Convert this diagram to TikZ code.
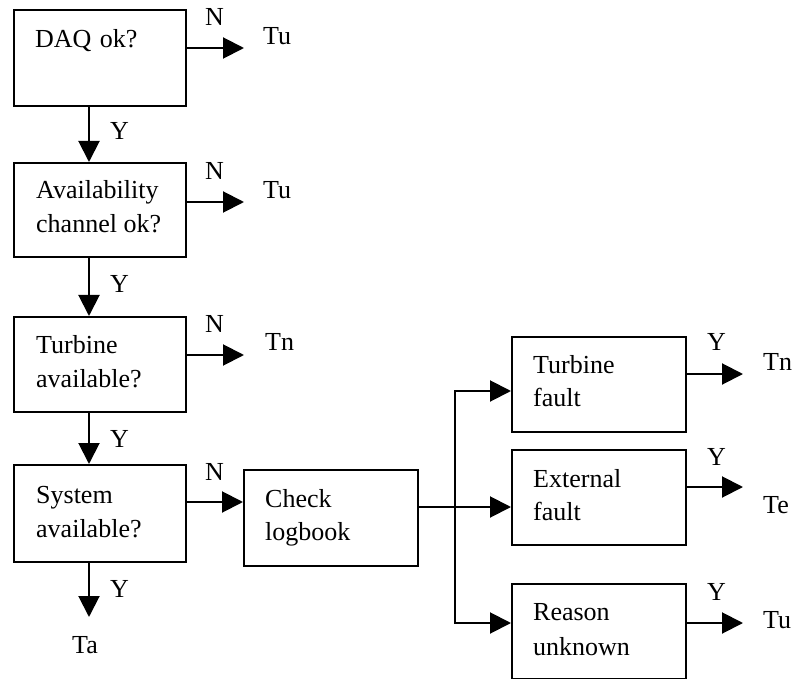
\documentclass[tikz,border=0pt]{standalone}
\usepackage{fontspec}
\setmainfont{Liberation Serif}
\usetikzlibrary{arrows.meta}
\begin{document}
\begin{tikzpicture}[x=1pt,y=-1pt,
  box/.style={draw, line width=2.4pt, rectangle, inner sep=0pt, anchor=north west, minimum width=172pt},
  txt/.style={inner sep=0pt, anchor=base west, font=\fontsize{26}{33}\selectfont},
  arr/.style={line width=2pt, -{Triangle[length=21pt,width=21pt]}},
  conn/.style={line width=2pt}]
\useasboundingbox (0,0) rectangle (793,679);
% left column boxes
\node[box, minimum height=96pt] (b1) at (13,9) {};
\node[box, minimum height=94pt] (b2) at (13,162) {};
\node[box, minimum height=95pt] (b3) at (13,316) {};
\node[box, minimum height=97pt] (b4) at (13,464) {};
\node[box, minimum width=174pt, minimum height=96pt] (chk) at (243,469) {};
\node[box, minimum width=174pt, minimum height=95pt] (tf) at (511,336) {};
\node[box, minimum width=174pt, minimum height=95pt] (ext) at (511,449) {};
\node[box, minimum width=174pt, minimum height=95pt] (ru) at (511,583) {};
% box texts
\node[txt] (t1) at (35,48) {DAQ\hspace{2pt} ok?};
\node[txt] (t2a) at (36,199) {Availability};
\node[txt] (t2b) at (36,233) {channel ok?};
\node[txt] (t3a) at (36,353) {Turbine};
\node[txt] (t3b) at (36,387) {available?};
\node[txt] (t4a) at (36,503) {System};
\node[txt] (t4b) at (36,537) {available?};
\node[txt] (tca) at (265,507) {Check};
\node[txt] (tcb) at (265,540) {logbook};
\node[txt] (tfa) at (533,373) {Turbine};
\node[txt] (tfb) at (533,406) {fault};
\node[txt] (tea) at (533,487) {External};
\node[txt] (teb) at (533,520) {fault};
\node[txt] (tra) at (533,620) {Reason};
\node[txt] (trb) at (533,655) {unknown};
% coordinates
\coordinate (colx) at (89,0);
\coordinate (o1) at (185,48);
\coordinate (o2) at (185,202);
\coordinate (o3) at (185,355);
\coordinate (o4) at (185,502);
\coordinate (e1) at (244,48);
\coordinate (e2) at (244,202);
\coordinate (e3) at (244,355);
\coordinate (ta tip) at (89,617);
\coordinate (jt) at (455,391);
\coordinate (jb) at (455,623);
\coordinate (r1) at (685,374);
\coordinate (r2) at (685,487);
\coordinate (r3) at (685,623);
\coordinate (re1) at (743,374);
\coordinate (re2) at (743,487);
\coordinate (re3) at (743,623);
% vertical arrows
\draw[arr] (b1.south -| colx) -- (b2.north -| colx);
\draw[arr] (b2.south -| colx) -- (b3.north -| colx);
\draw[arr] (b3.south -| colx) -- (b4.north -| colx);
\draw[arr] (b4.south -| colx) -- (ta tip);
% horizontal arrows from left boxes
\draw[arr] (o1) -- (e1);
\draw[arr] (o2) -- (e2);
\draw[arr] (o3) -- (e3);
\draw[arr] (o4) -- (chk.west |- o4);
% branches
\draw[arr] (chk.east |- 0,507) -- (ext.west |- 0,507);
\draw[conn, {Triangle[length=21pt,width=21pt]}-{Triangle[length=21pt,width=21pt]}] (tf.west |- jt) -- (jt) -- (jb) -- (ru.west |- jb);
% right outputs
\draw[arr] (r1) -- (re1);
\draw[arr] (r2) -- (re2);
\draw[arr] (r3) -- (re3);
% labels
\node[txt] (n1) at (205,26) {N};
\node[txt] (n2) at (205,180) {N};
\node[txt] (n3) at (205,332) {N};
\node[txt] (n4) at (205,480) {N};
\node[txt] (y1) at (110,140) {Y};
\node[txt] (y2) at (110,293) {Y};
\node[txt] (y3) at (110,447) {Y};
\node[txt] (y4) at (110,597) {Y};
\node[txt] (yr1) at (707,350) {Y};
\node[txt] (yr2) at (707,465) {Y};
\node[txt] (yr3) at (707,600) {Y};
\node[txt] (l1) at (263,45) {Tu};
\node[txt] (l2) at (263,199) {Tu};
\node[txt] (l3) at (265,350) {Tn};
\node[txt] (ta) at (72,653) {Ta};
\node[txt] (lr1) at (763,370) {Tn};
\node[txt] (lr2) at (763,513) {Te};
\node[txt] (lr3) at (763,628) {Tu};
\end{tikzpicture}
\end{document}
